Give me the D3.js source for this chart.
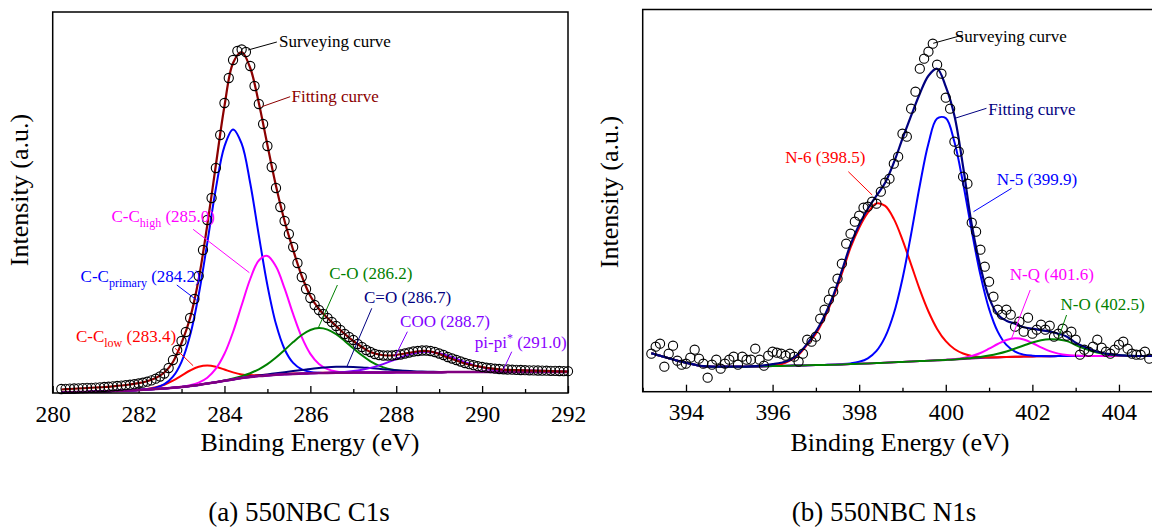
<!DOCTYPE html>
<html lang="en">
<head>
<meta charset="utf-8"/>
<title>550NBC XPS C1s / N1s</title>
<script src="https://cdnjs.cloudflare.com/ajax/libs/d3/7.8.5/d3.min.js"></script>
<style>
  body { margin: 0; background: #fff; }
  svg { display: block; }
  svg text { font-family: "Liberation Serif", "Times New Roman", serif; }
</style>
</head>
<body>
<svg id="chart" width="1152" height="528"></svg>
<script>
// ---------- (a) C1s : measured points (0.1 eV) ----------
var c1sSurveyE = [280.2,280.3,280.4,280.5,280.6,280.7,280.8,280.9,281.0,281.1,281.2,281.3,281.4,281.5,281.6,281.7,281.8,281.9,282.0,282.1,
  282.2,282.3,282.4,282.5,282.6,282.7,282.8,282.9,283.0,283.1,283.2,283.3,283.4,283.5,283.6,283.7,283.8,283.9,284.0,284.1,
  284.2,284.3,284.4,284.5,284.6,284.7,284.8,284.9,285.0,285.1,285.2,285.3,285.4,285.5,285.6,285.7,285.8,285.9,286.0,286.1,
  286.2,286.3,286.4,286.5,286.6,286.7,286.8,286.9,287.0,287.1,287.2,287.3,287.4,287.5,287.6,287.7,287.8,287.9,288.0,288.1,
  288.2,288.3,288.4,288.5,288.6,288.7,288.8,288.9,289.0,289.1,289.2,289.3,289.4,289.5,289.6,289.7,289.8,289.9,290.0,290.1,
  290.2,290.3,290.4,290.5,290.6,290.7,290.8,290.9,291.0,291.1,291.2,291.3,291.4,291.5,291.6,291.7,291.8,291.9,292.0];
var c1sSurveyI = [4,4.2,4.4,4.5,4.7,4.9,5.1,5.2,5.4,5.7,6.0,6.3,6.7,7.0,7.4,7.8,8.3,8.8,9.5,10.3,
  11.3,12.6,14.3,16.5,19.5,25,33,43,52,61,75,94,117,143,173,195,225,258,290,315,
  333,342,343.5,341,327,307,289,269,247,226,205,186,172,159,146,130,116,104,95,88,
  83,79,75,71,67,63,59,56,53,49,46,43,41,39,38,37.5,37.5,37.5,38,38.5,
  39.5,40.5,41.5,42,42.5,42.5,42,41,39.5,38,36,34.5,33,31.5,30,28.8,27.8,26.8,26,25.3,
  24.8,24.3,24,23.7,23.5,23.3,23.1,23,22.8,22.7,22.6,22.5,22.4,22.3,22.2,22.1,22,21.9,21.8];

// ---------- (a) C1s : fitted curves (0.2 eV) ----------
var c1sGridE = [280.2,280.4,280.6,280.8,281.0,281.2,281.4,281.6,281.8,282.0,
  282.2,282.4,282.6,282.8,283.0,283.2,283.4,283.6,283.8,284.0,
  284.2,284.4,284.6,284.8,285.0,285.2,285.4,285.6,285.8,286.0,
  286.2,286.4,286.6,286.8,287.0,287.2,287.4,287.6,287.8,288.0,
  288.2,288.4,288.6,288.8,289.0,289.2,289.4,289.6,289.8,290.0,
  290.2,290.4,290.6,290.8,291.0,291.2,291.4,291.6,291.8,292.0];
var c1sFit = [3.5,4,4.5,5,5.5,6,6.7,7.5,8.5,9.8,
  11.8,15,20.5,31,50,75,114,168,228,287,
  330,341,325,290,248,207,172,143,117,97,
  84,75,67,59,52,46,41,38.5,37.5,38,
  39.5,41,42,41.5,39,35.5,32.5,29.5,27.5,26,
  24.6,23.6,23.1,22.8,22.6,22.4,22.2,21.9,21.7,21.5];
var c1sBackground = [0.5,0.7,0.9,1.1,1.3,1.6,1.9,2.2,2.6,3.0,
  3.5,4.0,4.6,5.3,6.1,7.0,8.1,9.4,10.8,12.2,
  13.6,14.9,16.0,16.9,17.6,18.2,18.7,19.1,19.4,19.7,
  19.9,20.1,20.2,20.3,20.4,20.5,20.5,20.6,20.6,20.7,
  20.7,20.7,20.8,20.8,20.8,20.9,20.9,20.9,20.9,21.0,
  21,21,21,21,21,21,21,21,21,21];
var c1sLow = [0.5,0.7,0.9,1.1,1.3,1.6,1.9,2.2,2.6,3.0,
  4.1,5.7,8.3,12.3,17.4,22.5,26.3,27.6,26.3,23.5,
  20.6,18.6,17.9,17.9,18.2,18.6,19.0,19.4,19.6,19.9,
  20.1,20.2,20.3,20.4,20.5,20.5,20.5,20.6,20.6,20.7,
  20.7,20.7,20.8,20.8,20.8,20.9,20.9,20.9,20.9,21.0,
  21,21,21,21,21,21,21,21,21,21];
var c1sPrimary = [0.5,0.7,0.9,1.1,1.3,1.6,1.9,2.2,2.6,3.1,
  3.9,5.4,8.8,16.3,31.2,57.7,98.2,150.2,204.5,246.7,
  263.6,249.4,209.7,157.7,107.7,68.9,43.8,30.1,23.6,21.1,
  20.3,20.1,20.2,20.3,20.4,20.5,20.5,20.6,20.6,20.7,
  20.7,20.7,20.8,20.8,20.8,20.9,20.9,20.9,20.9,21.0,
  21,21,21,21,21,21,21,21,21,21];
var c1sHigh = [0.5,0.7,0.9,1.1,1.3,1.6,1.9,2.2,2.6,3.0,
  3.5,4.0,4.6,5.3,6.3,7.8,10.4,15.3,24.3,39.2,
  61.0,87.7,114.0,132.5,137.1,126.4,104.6,78.8,55.8,39.1,
  29.0,23.8,21.5,20.7,20.4,20.5,20.5,20.6,20.6,20.7,
  20.7,20.7,20.8,20.8,20.8,20.9,20.9,20.9,20.9,21.0,
  21,21,21,21,21,21,21,21,21,21];
var c1sCO = [0.5,0.7,0.9,1.1,1.3,1.6,1.9,2.2,2.6,3.0,
  3.5,4.0,4.6,5.3,6.1,7.0,8.1,9.4,10.8,12.6,
  14.6,16.9,19.8,23.7,28.8,35.4,43.0,50.9,58.0,63.0,
  64.9,63.4,58.8,52.1,44.7,37.7,31.7,27.4,24.4,22.7,
  21.65,21.1,20.9,20.8,20.8,20.9,20.9,20.9,20.9,21.0,
  21,21,21,21,21,21,21,21,21,21];
var c1sCdO = [0.5,0.7,0.9,1.1,1.3,1.6,1.9,2.2,2.6,3.0,
  3.5,4.0,4.6,5.3,6.1,7.0,8.1,9.4,10.8,12.2,
  13.7,15.1,16.4,17.5,18.6,19.7,20.8,21.9,23.0,24.1,
  25.0,25.8,26.2,26.3,26.1,25.6,24.9,24.2,23.4,22.8,
  22.2,21.7,21.4,21.2,21.0,21.0,20.9,20.9,20.9,21.0,
  21,21,21,21,21,21,21,21,21,21];
var c1sCOO = [0.5,0.7,0.9,1.1,1.3,1.6,1.9,2.2,2.6,3.0,
  3.5,4.0,4.6,5.3,6.1,7.0,8.1,9.4,10.8,12.2,
  13.6,14.9,16.0,16.9,17.6,18.2,18.7,19.1,19.4,19.7,
  19.9,20.3,20.6,21.1,22.0,23.3,25.1,27.6,30.6,34.0,
  37.1,39.6,41.1,41.1,39.7,37.3,34.2,30.9,27.9,25.6,
  23.8,22.6,21.8,21.4,21.2,21,21,21,21,21];
var c1sPiPi = [0.5,0.7,0.9,1.1,1.3,1.6,1.9,2.2,2.6,3.0,
  3.5,4.0,4.6,5.3,6.1,7.0,8.1,9.4,10.8,12.2,
  13.6,14.9,16.0,16.9,17.6,18.2,18.7,19.1,19.4,19.7,
  19.9,20.1,20.2,20.3,20.4,20.5,20.5,20.6,20.6,20.7,
  20.7,20.7,20.8,20.8,20.8,20.9,20.9,21.0,21.1,21.4,
  21.6,21.9,22.2,22.4,22.5,22.4,22.2,21.9,21.6,21.4];

// ---------- (b) N1s : measured points (0.1 eV) ----------
var n1sSurveyE = [393.2,393.3,393.4,393.5,393.6,393.7,393.8,393.9,394.0,394.1,
  394.2,394.3,394.4,394.5,394.6,394.7,394.8,394.9,395.0,395.1,
  395.2,395.3,395.4,395.5,395.6,395.7,395.8,395.9,396.0,396.1,
  396.2,396.3,396.4,396.5,396.6,396.7,396.8,396.9,397.0,397.1,
  397.2,397.3,397.4,397.5,397.6,397.7,397.8,397.9,398.0,398.1,
  398.2,398.3,398.4,398.5,398.6,398.7,398.8,398.9,399.0,399.1,
  399.2,399.3,399.4,399.5,399.6,399.7,399.8,399.9,400.0,400.1,
  400.2,400.3,400.4,400.5,400.6,400.7,400.8,400.9,401.0,401.1,
  401.2,401.3,401.4,401.5,401.6,401.7,401.8,401.9,402.0,402.1,
  402.2,402.3,402.4,402.5,402.6,402.7,402.8,402.9,403.0,403.1,
  403.2,403.3,403.4,403.5,403.6,403.7,403.8,403.9,404.0,404.1,
  404.2,404.3,404.4,404.5,404.6,404.7];
var n1sSurveyI = [38,45,48,25,38,46,31,27,28,34,
  42,33,28,14,27,32,23,28,32,35,
  27,35,32,32,43,32,26,36,40,39,
  38,36,38,35,30,38,52,50,55,73,
  82,92,100,113,128,148,158,170,176,184,
  185,190,188,200,209,213,228,235,258,255,
  283,300,323,333,340,348,327,318,294,283,
  250,240,215,208,169,160,142,125,110,95,
  82,77,82,77,65,70,60,74,58,62,
  67,62,66,55,58,63,56,60,52,37,
  42,40,45,52,44,40,38,42,47,50,
  43,38,37,37,40,33];

// ---------- (b) N1s : fitted curves (0.2 eV) ----------
var n1sGridE = [393.2,393.4,393.6,393.8,394.0,394.2,394.4,394.6,394.8,395.0,
  395.2,395.4,395.6,395.8,396.0,396.2,396.4,396.6,396.8,397.0,
  397.2,397.4,397.6,397.8,398.0,398.2,398.4,398.6,398.8,399.0,
  399.2,399.4,399.6,399.8,400.0,400.2,400.4,400.6,400.8,401.0,
  401.2,401.4,401.6,401.8,402.0,402.2,402.4,402.6,402.8,403.0,
  403.2,403.4,403.6,403.8,404.0,404.2,404.4,404.6,404.8];
var n1sFit = [38.4,36,33.5,31,29,27,25.5,25,25,25,
  25,25,25.5,26.3,27.5,29,31.7,38,48,60,
  76,96,121,147,167,183,196,209,229,253,
  276,298,316,323,305,276,225,167,125,94,
  77,71,68,64.5,63,61.5,60,58,55,49,
  45,41.5,39,37.5,36.5,36,35.7,35.7,35.7];
var n1sBackground = [38.4,36,33.5,31,29,27,25.5,25,25,25,
  25,25,25.2,25.4,25.6,25.8,26,26.2,26.4,26.6,
  26.8,27,27.3,27.6,27.9,28.2,28.6,29,29.4,29.8,
  30.2,30.6,31,31.4,31.8,32.3,32.8,33.2,33.6,34,
  34.3,34.6,34.9,35.1,35.3,35.4,35.5,35.6,35.6,35.7,
  35.7,35.7,35.7,35.7,35.7,35.7,35.7,35.7,35.7];
var n1sN6 = [38.4,36,33.5,31,29,27,25.5,25,25,25,
  25,25,25.2,25.4,26.4,27.5,31,37,47,58,
  74,94,118,144,164,179,188.3,185.8,172.8,151.9,
  127.1,102.1,80.2,62.8,50.5,42.7,38.2,35.8,34.8,34.5,
  34.5,34.7,34.9,35.1,35.3,35.4,35.5,35.6,35.6,35.7,
  35.7,35.7,35.7,35.7,35.7,35.7,35.7,35.7,35.7];
var n1sN5 = [38.4,36,33.5,31,29,27,25.5,25,25,25,
  25,25,25.2,25.4,25.6,25.8,26,26.2,26.4,26.6,
  26.8,27,27.5,28.3,29.9,33.4,40.8,54.8,78.2,113.0,
  157.7,206.2,248.3,273.2,273.6,249.6,208.4,160.7,116.8,82.8,
  60.1,46.8,40.1,37.1,36.0,35.6,35.5,35.6,35.6,35.7,
  35.7,35.7,35.7,35.7,35.7,35.7,35.7,35.7,35.7];
var n1sNQ = [38.4,36,33.5,31,29,27,25.5,25,25,25,
  25,25,25.2,25.4,25.6,25.8,26,26.2,26.4,26.6,
  26.8,27,27.3,27.6,27.9,28.2,28.6,29,29.4,29.8,
  30.2,30.6,31,31.4,31.9,32.7,33.8,35.7,38.7,43.0,
  47.7,51.7,53.4,52.2,48.7,44.4,40.6,38.1,36.6,36.1,
  35.8,35.7,35.7,35.7,35.7,35.7,35.7,35.7,35.7];
var n1sNO = [38.4,36,33.5,31,29,27,25.5,25,25,25,
  25,25,25.2,25.4,25.6,25.8,26,26.2,26.4,26.6,
  26.8,27,27.3,27.6,27.9,28.2,28.6,29,29.4,29.8,
  30.2,30.6,31,31.4,31.8,32.3,33.1,33.8,34.7,36.1,
  37.9,40.2,43.2,46.2,49.2,51.4,52.5,52.2,50.6,46.7,
  43.2,40.2,38.2,37.0,36.3,36.0,35.7,35.7,35.7];

// ---------- ticks ----------
var c1sMajorTicks = [280, 282, 284, 286, 288, 290, 292];
var c1sMinorTicks = [281, 283, 285, 287, 289, 291];
var n1sMajorTicks = [394, 396, 398, 400, 402, 404];
var n1sMinorTicks = [393, 395, 397, 399, 401, 403];

var svg = d3.select("#chart");

function drawPanel(p) {
  var x = d3.scaleLinear().domain(p.xDomain).range([p.left, p.right]);
  var y = d3.scaleLinear().domain(p.yDomain).range([p.bottom, p.top]);
  var g = svg.append("g");

  // ticks point inward
  var minor = g.append("g").attr("transform", "translate(0," + p.bottom + ")")
    .call(d3.axisBottom(x).tickValues(p.minorTicks).tickSize(-4).tickSizeOuter(0).tickFormat(""));
  minor.select(".domain").remove();
  var major = g.append("g").attr("transform", "translate(0," + p.bottom + ")")
    .call(d3.axisBottom(x).tickValues(p.majorTicks).tickSize(-7).tickSizeOuter(0).tickPadding(12).tickFormat(d3.format("d")));
  major.select(".domain").remove();
  major.attr("font-size", 23.5);
  major.selectAll("text").attr("fill", "#000");
  g.selectAll(".tick line").attr("stroke", "#000").attr("stroke-width", 1.3);

  var line = d3.line()
    .x(function(d, i) { return x(p.gridE[i]); })
    .y(function(d) { return y(d); })
    .curve(d3.curveCatmullRom.alpha(0.5));

  p.curves.forEach(function(c) {
    g.append("path").datum(c.values)
      .attr("d", line)
      .attr("fill", "none")
      .attr("stroke", c.color)
      .attr("stroke-width", c.width || 2);
  });

  g.append("g").selectAll("circle")
    .data(p.surveyI)
    .join("circle")
      .attr("cx", function(d, i) { return x(p.surveyE[i]); })
      .attr("cy", function(d) { return y(d); })
      .attr("r", 4.6)
      .attr("fill", "none")
      .attr("stroke", "#000")
      .attr("stroke-width", 1.1);

  // frame
  g.append("rect")
    .attr("x", p.left).attr("y", p.top)
    .attr("width", p.right - p.left).attr("height", p.bottom - p.top)
    .attr("fill", "none").attr("stroke", "#000").attr("stroke-width", 1.5);

  // peak labels with leader lines
  p.notes.forEach(function(n) {
    g.append("line")
      .attr("x1", x(n.line[0][0])).attr("y1", y(n.line[0][1]))
      .attr("x2", x(n.line[1][0])).attr("y2", y(n.line[1][1]))
      .attr("stroke", n.color).attr("stroke-width", 1);
    var t = g.append("text")
      .attr("x", x(n.at[0])).attr("y", y(n.at[1]))
      .attr("fill", n.color)
      .attr("font-size", 17);
    var shift = 0;
    n.parts.forEach(function(part) {
      var ts = t.append("tspan").text(part[0]);
      var want = part[1] === "sub" ? 5 : part[1] === "sup" ? -6 : 0;
      if (want !== shift) ts.attr("dy", want - shift);
      if (part[1]) ts.attr("font-size", 12);
      shift = want;
    });
  });

  // axis titles
  g.append("text")
    .attr("x", p.xLabelX).attr("y", 451)
    .attr("text-anchor", "middle")
    .attr("font-size", 26)
    .text("Binding Energy (eV)");
  g.append("text")
    .attr("transform", "translate(" + p.yLabelX + "," + p.yLabelY + ") rotate(-90)")
    .attr("text-anchor", "middle")
    .attr("font-size", 26)
    .text("Intensity (a.u.)");
  g.append("text")
    .attr("x", p.titleX).attr("y", 521)
    .attr("text-anchor", "middle")
    .attr("font-size", 27)
    .text(p.title);
}

drawPanel({
  xDomain: [280, 292], yDomain: [0, 381],
  left: 52.7, right: 568, top: 12, bottom: 393,
  majorTicks: c1sMajorTicks, minorTicks: c1sMinorTicks,
  gridE: c1sGridE,
  surveyE: c1sSurveyE, surveyI: c1sSurveyI,
  curves: [
    { values: c1sLow, color: "#ff0000" },
    { values: c1sPrimary, color: "#0000ff" },
    { values: c1sHigh, color: "#ff00ff" },
    { values: c1sCO, color: "#008000" },
    { values: c1sCdO, color: "#000080" },
    { values: c1sCOO, color: "#8000ff" },
    { values: c1sPiPi, color: "#8b00ff" },
    { values: c1sBackground, color: "#800080", width: 2.5 },
    { values: c1sFit, color: "#8b0000", width: 2.2 }
  ],
  notes: [
    { parts: [["Surveying curve"]], color: "#000", at: [285.27, 346.3], line: [[284.55, 343], [285.22, 351]] },
    { parts: [["Fitting curve"]], color: "#8b0000", at: [285.56, 291.3], line: [[284.87, 286.3], [285.53, 296.3]] },
    { parts: [["C-C"], ["high", "sub"], [" (285.0)"]], color: "#ff00ff", at: [281.37, 171.3], line: [[283.27, 163.7], [284.58, 120.3]] },
    { parts: [["C-C"], ["primary", "sub"], [" (284.2)"]], color: "#0000ff", at: [280.65, 111.3], line: [[282.89, 108], [283.35, 93]] },
    { parts: [["C-C"], ["low", "sub"], [" (283.4)"]], color: "#ff0000", at: [280.54, 51.3], line: [[282.85, 44.7], [283.27, 27.3]] },
    { parts: [["C-O (286.2)"]], color: "#008000", at: [286.44, 113.7], line: [[286.63, 108], [286.18, 64.7]] },
    { parts: [["C=O (286.7)"]], color: "#000080", at: [287.25, 89.7], line: [[287.43, 84.7], [286.85, 26.3]] },
    { parts: [["COO (288.7)"]], color: "#8000ff", at: [288.09, 65.7], line: [[288.26, 61.3], [287.97, 36.3]] },
    { parts: [["pi-pi"], ["*", "sup"], [" (291.0)"]], color: "#8b00ff", at: [289.83, 44.7], line: [[290.69, 41.3], [290.49, 23]] }
  ],
  xLabelX: 310, yLabelX: 28, yLabelY: 190,
  titleX: 299, title: "(a) 550NBC C1s"
});

drawPanel({
  xDomain: [393, 404.8], yDomain: [0, 382.2],
  left: 642.7, right: 1153.6, top: 9.5, bottom: 391.7,
  majorTicks: n1sMajorTicks, minorTicks: n1sMinorTicks,
  gridE: n1sGridE,
  surveyE: n1sSurveyE, surveyI: n1sSurveyI,
  curves: [
    { values: n1sBackground, color: "#800080" },
    { values: n1sN6, color: "#ff0000" },
    { values: n1sN5, color: "#0000ff" },
    { values: n1sNQ, color: "#ff00ff" },
    { values: n1sNO, color: "#008000" },
    { values: n1sFit, color: "#000080", width: 2.2 }
  ],
  notes: [
    { parts: [["Surveying curve"]], color: "#000", at: [400.21, 350], line: [[399.71, 348.4], [400.40, 356.7]] },
    { parts: [["Fitting curve"]], color: "#000080", at: [400.98, 276.7], line: [[400.21, 273.4], [400.94, 283.4]] },
    { parts: [["N-5 (399.9)"]], color: "#0000ff", at: [401.18, 206.7], line: [[401.52, 203.4], [400.64, 180]] },
    { parts: [["N-6 (398.5)"]], color: "#ff0000", at: [396.29, 228.4], line: [[397.75, 220], [398.30, 196.7]] },
    { parts: [["N-Q (401.6)"]], color: "#ff00ff", at: [401.48, 111.7], line: [[401.95, 101.7], [401.52, 53.4]] },
    { parts: [["N-O (402.5)"]], color: "#008000", at: [402.65, 81.7], line: [[402.79, 76.7], [402.60, 53.4]] }
  ],
  xLabelX: 900, yLabelX: 618, yLabelY: 192,
  titleX: 884, title: "(b) 550NBC N1s"
});
</script>
</body>
</html>
